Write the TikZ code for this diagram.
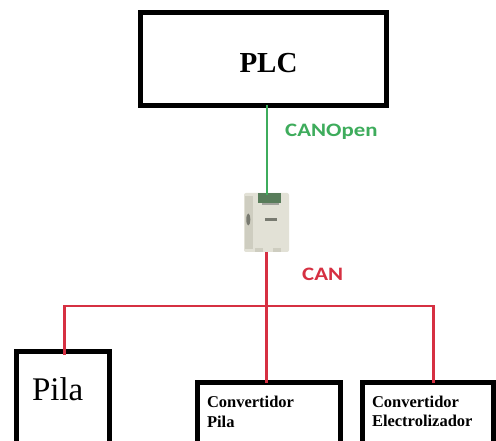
\documentclass[tikz,border=0pt]{standalone}
\usepackage{fontspec}
\setmainfont{Liberation Serif}
\newfontfamily\busfont{Carlito}
\usetikzlibrary{calc}

\definecolor{cangreen}{RGB}{62,172,92}
\definecolor{canred}{RGB}{214,48,66}
\definecolor{devbody}{RGB}{226,225,214}
\definecolor{devside}{RGB}{206,205,192}
\definecolor{devdark}{RGB}{120,122,112}
\definecolor{devplug}{RGB}{88,124,90}

\tikzset{
  blockbox/.style={draw=black, line width=5pt, rectangle, inner sep=0pt, outer sep=0pt, fill=white},
  boxlabel/.style={inner sep=0pt, outer sep=0pt, anchor=base west, align=left},
  smalllabel/.style={boxlabel, font=\fontsize{16.5}{19.5}\selectfont\bfseries},
  buslabel/.style={inner sep=0pt, anchor=base west, font=\busfont\bfseries\fontsize{19}{22}\selectfont, xscale=1.2},
  canopenline/.style={draw=cangreen, line width=2pt},
  canline/.style={draw=canred, line width=2.2pt},
}

\begin{document}
\begin{tikzpicture}[x=1pt, y=-1pt]
  \useasboundingbox (0,0) rectangle (496,441);
  \fill[white] (0,0) rectangle (496,441);
  \clip (0,0) rectangle (496,441);

  % controller
  \node[blockbox, minimum width=246pt, minimum height=93pt] (plc) at (263,59) {};
  \node[inner sep=0pt, anchor=base, font=\fontsize{29}{34}\selectfont\bfseries] (plctext) at (268.5,72.7) {PLC};

  % CANopen / CAN gateway module
  \node[rectangle, rounded corners=2pt, fill=devbody, minimum width=45pt,
        minimum height=59pt, inner sep=0pt] (gw) at (266.5,222.5) {};
  \fill[devside] ([xshift=1pt,yshift=-3pt]gw.north west) rectangle ([xshift=9pt,yshift=3pt]gw.south west);
  \fill[devplug] ([xshift=-9pt]gw.north) rectangle ([xshift=14pt,yshift=-10pt]gw.north);
  \fill[devdark!70] ([xshift=-5pt,yshift=-10pt]gw.north) rectangle ([xshift=12pt,yshift=-12pt]gw.north);
  \fill[devdark] ($(gw.west)+(4.5,-3)$) ellipse (2pt and 6pt);
  \fill[devdark] ($(gw.center)+(-2,-4)$) rectangle ($(gw.center)+(10,-1.5)$);
  \fill[devside] ([xshift=-12pt,yshift=4pt]gw.south) rectangle ([xshift=-4pt]gw.south);
  \fill[devside] ([xshift=6pt,yshift=4pt]gw.south) rectangle ([xshift=14pt]gw.south);

  % field devices (lower edges run past the page)
  \node[blockbox, minimum width=93pt, minimum height=110pt] (pila) at (62.5,406.5) {};
  \node[boxlabel, font=\fontsize{33}{38}\selectfont] (pilatext) at (32,400) {Pila};

  \node[blockbox, minimum width=142.5pt, minimum height=80pt] (cpila) at (268.75,422.5) {};
  \node[smalllabel] (cpilatext) at (207,427) {Convertidor\\Pila};

  \node[blockbox, minimum width=131pt, minimum height=80pt] (celec) at (428,422.5) {};
  \node[smalllabel] (celectext) at (372,426.5) {Convertidor\\Electrolizador};

  % CANopen link
  \draw[canopenline] (gw.north |- plc.south) -- ([yshift=-2pt]gw.north);
  \node[buslabel, text=cangreen] (canopen) at (285,136.5) {CANOpen};

  % CAN bus
  \coordinate (busL) at (64.5,305.7);
  \coordinate (busR) at (433.5,305.7);
  \draw[canline] (gw.south) -- (gw.south |- cpila.north);
  \draw[canline] ([yshift=-3pt]busL |- pila.north) -- (busL) -- (busR) -- (busR |- celec.north);
  \node[buslabel, text=canred] (can) at (302,280) {CAN};
\end{tikzpicture}
\end{document}
